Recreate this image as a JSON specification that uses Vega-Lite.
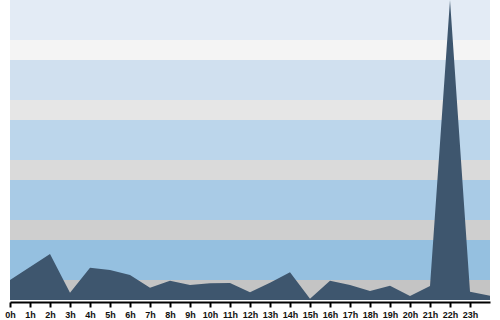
{
  "$schema": "https://vega.github.io/schema/vega-lite/v6.json",
  "width": 480,
  "height": 300,
  "autosize": {"type": "none"},
  "padding": {"left": 10, "right": 10, "top": 0, "bottom": 20},
  "background": "white",
  "config": {"view": {"stroke": null}},
  "datasets": {
    "bands": [
      {"band": "g1", "lo": 0, "hi": 20},
      {"band": "b1", "lo": 20, "hi": 60},
      {"band": "g2", "lo": 60, "hi": 80},
      {"band": "b2", "lo": 80, "hi": 120},
      {"band": "g3", "lo": 120, "hi": 140},
      {"band": "b3", "lo": 140, "hi": 180},
      {"band": "g4", "lo": 180, "hi": 200},
      {"band": "b4", "lo": 200, "hi": 240},
      {"band": "g5", "lo": 240, "hi": 260},
      {"band": "b5", "lo": 260, "hi": 300}
    ],
    "traffic": [
      {"hour": 0, "value": 20},
      {"hour": 1, "value": 33},
      {"hour": 2, "value": 46},
      {"hour": 3, "value": 7.3},
      {"hour": 4, "value": 32.3},
      {"hour": 5, "value": 30},
      {"hour": 6, "value": 25},
      {"hour": 7, "value": 12.3},
      {"hour": 8, "value": 19.3},
      {"hour": 9, "value": 15},
      {"hour": 10, "value": 16.7},
      {"hour": 11, "value": 17},
      {"hour": 12, "value": 7.7},
      {"hour": 13, "value": 17.3},
      {"hour": 14, "value": 27.7},
      {"hour": 15, "value": 1.3},
      {"hour": 16, "value": 19.3},
      {"hour": 17, "value": 15},
      {"hour": 18, "value": 9},
      {"hour": 19, "value": 14.3},
      {"hour": 20, "value": 4},
      {"hour": 21, "value": 14},
      {"hour": 22, "value": 300},
      {"hour": 23, "value": 8.3},
      {"hour": 24, "value": 4.3}
    ]
  },
  "layer": [
    {
      "data": {"name": "bands"},
      "mark": {"type": "rect"},
      "encoding": {
        "y": {"field": "lo", "type": "quantitative", "scale": {"domain": [0, 300], "nice": false}, "axis": null},
        "y2": {"field": "hi"},
        "fill": {
          "field": "band",
          "type": "nominal",
          "legend": null,
          "scale": {
            "domain": ["g1", "b1", "g2", "b2", "g3", "b3", "g4", "b4", "g5", "b5"],
            "range": ["#c4c4c4", "#95c0e0", "#cfcfcf", "#a9cbe6", "#dadada", "#bcd6eb", "#e6e6e6", "#d0e0ef", "#f4f4f4", "#e3ebf5"]
          }
        }
      }
    },
    {
      "data": {"name": "traffic"},
      "mark": {"type": "area", "color": "#3e566e", "opacity": 1, "interpolate": "linear"},
      "encoding": {
        "x": {
          "field": "hour",
          "type": "quantitative",
          "scale": {"domain": [0, 24], "nice": false, "zero": false},
          "axis": {
            "values": [0,1,2,3,4,5,6,7,8,9,10,11,12,13,14,15,16,17,18,19,20,21,22,23],
            "labelExpr": "datum.value + 'h'",
            "title": null,
            "grid": false,
            "domainColor": "black",
            "domainWidth": 2,
            "offset": 2,
            "tickColor": "black",
            "tickWidth": 2,
            "tickSize": 5,
            "labelFont": "Liberation Sans",
            "labelFontSize": 9,
            "labelFontWeight": "bold",
            "labelColor": "#111111",
            "labelPadding": 3,
            "labelFlush": false,
            "labelOverlap": false
          }
        },
        "y": {"field": "value", "type": "quantitative", "scale": {"domain": [0, 300], "nice": false}, "axis": null}
      }
    }
  ]
}
